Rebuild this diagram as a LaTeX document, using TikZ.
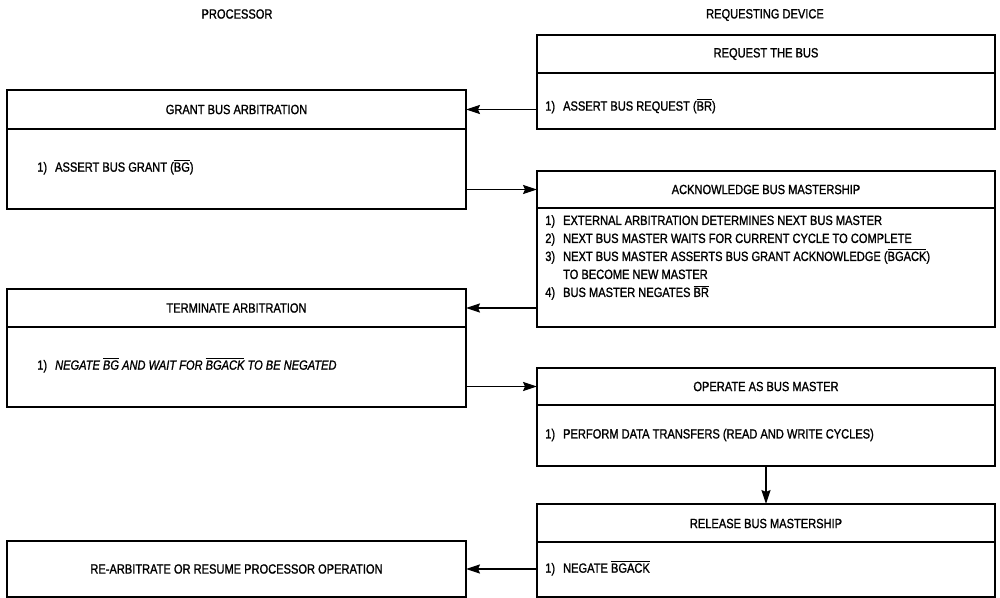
\documentclass[tikz,border=0pt]{standalone}
\usepackage{fontspec}
\setmainfont[FakeStretch=0.83,FakeBold=1.2]{Liberation Sans}
\usetikzlibrary{arrows.meta}
\newcommand\ovl[1]{$\overline{\mbox{#1}}$}
\newcommand\itm[1]{#1)\hspace{0.6em}}
\begin{document}
\begin{tikzpicture}[x=0.025cm,y=-0.025cm,
  box/.style={draw, line width=1.4pt, inner sep=0pt, outer sep=0pt, anchor=north west},
  div/.style={line width=0.9pt},
  hd/.style={font=\fontsize{9.5}{11}\selectfont, inner sep=0pt},
  bd/.style={font=\fontsize{9.5}{12.8}\selectfont, inner sep=0pt, anchor=west, align=left},
  arr/.style={line width=0.8pt, -{Stealth[length=10pt,width=6.5pt,inset=1.5pt]}}]
\useasboundingbox (0,0) rectangle (1000,598);
\fill[white] (0,0) rectangle (1000,598);

% column labels
\node[hd] (proc) at (237,14) {PROCESSOR};
\node[hd] (rdev) at (765,15) {REQUESTING DEVICE};

% boxes
\node[box, minimum width=459*0.025cm, minimum height=119*0.025cm] (grant) at (7,90) {};
\node[box, minimum width=459*0.025cm, minimum height=118*0.025cm] (term) at (7,289) {};
\node[box, minimum width=459*0.025cm, minimum height=56*0.025cm] (rearb) at (7,541) {};
\node[box, minimum width=458*0.025cm, minimum height=94*0.025cm] (req) at (537,35) {};
\node[box, minimum width=458*0.025cm, minimum height=156*0.025cm] (ack) at (537,171) {};
\node[box, minimum width=458*0.025cm, minimum height=98*0.025cm] (op) at (537,368) {};
\node[box, minimum width=458*0.025cm, minimum height=93*0.025cm] (rel) at (537,504) {};

% dividers
\draw[div] (grant.west |- 0,129) -- (grant.east |- 0,129);
\draw[div] (term.west |- 0,327) -- (term.east |- 0,327);
\draw[div] (req.west |- 0,73) -- (req.east |- 0,73);
\draw[div] (ack.west |- 0,208) -- (ack.east |- 0,208);
\draw[div] (op.west |- 0,405) -- (op.east |- 0,405);
\draw[div] (rel.west |- 0,542) -- (rel.east |- 0,542);

% headers
\node[hd] (granthd) at (236.5,109.5) {GRANT BUS ARBITRATION};
\node[hd] (termhd) at (236.5,308) {TERMINATE ARBITRATION};
\node[hd] (rearbhd) at (236.5,569) {RE-ARBITRATE OR RESUME PROCESSOR OPERATION};
\node[hd] (reqhd) at (766,54) {REQUEST THE BUS};
\node[hd] (ackhd) at (766,189.5) {ACKNOWLEDGE BUS MASTERSHIP};
\node[hd] (ophd) at (766,386.5) {OPERATE AS BUS MASTER};
\node[hd] (relhd) at (766,523.5) {RELEASE BUS MASTERSHIP};

% bodies
\node[bd] (grantbd) at (37,167) {\itm{1}ASSERT BUS GRANT (\ovl{BG})};
\node[bd] (termbd) at (37,365) {1)\hspace{0.6em}\itshape NEGATE \ovl{BG} AND WAIT FOR \ovl{BGACK} TO BE NEGATED};
\node[bd] (reqbd) at (545,106) {\itm{1}ASSERT BUS REQUEST (\ovl{BR})};
\node[bd] (ackbd) at (545,257.5) {\itm{1}EXTERNAL ARBITRATION DETERMINES NEXT BUS MASTER\\
\itm{2}NEXT BUS MASTER WAITS FOR CURRENT CYCLE TO COMPLETE\\
\itm{3}NEXT BUS MASTER ASSERTS BUS GRANT ACKNOWLEDGE (\ovl{BGACK})\\
\hphantom{\itm{3}}TO BECOME NEW MASTER\\
\itm{4}BUS MASTER NEGATES \ovl{BR}};
\node[bd] (opbd) at (545,435) {\itm{1}PERFORM DATA TRANSFERS (READ AND WRITE CYCLES)};
\node[bd] (relbd) at (545,568) {\itm{1}NEGATE \ovl{BGACK}};

% connectors
\draw[arr] (granthd -| req.west) -- (granthd -| grant.east);
\draw[arr] (ackhd -| grant.east) -- (ackhd -| ack.west);
\draw[arr] (termhd -| ack.west) -- (termhd -| term.east);
\draw[arr] (ophd -| term.east) -- (ophd -| op.west);
\draw[arr] (op.south) -- (rel.north);
\draw[arr] (rearb.east -| rel.west) -- (rearb.east);
\end{tikzpicture}
\end{document}
